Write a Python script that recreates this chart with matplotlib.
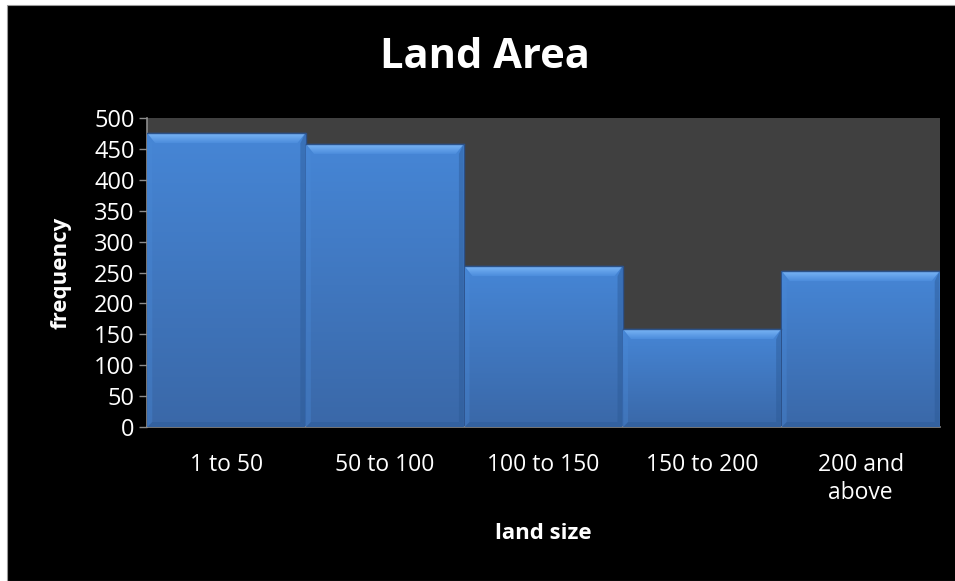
import matplotlib
matplotlib.use("Agg")
import matplotlib.pyplot as plt
import numpy as np
from matplotlib.colors import LinearSegmentedColormap
from matplotlib.patches import Polygon, Rectangle

categories = ["1 to 50", "50 to 100", "100 to 150", "150 to 200", "200 and\nabove"]
frequency = [475, 458, 260, 158, 252]

plt.rcParams["font.family"] = ["Open Sans", "DejaVu Sans"]

W, H = 955, 581
fig = plt.figure(figsize=(W / 100, H / 100), dpi=100, facecolor="white")
# black card, leaving a thin white strip on the top and left edges
fig.patches.append(Rectangle((7 / W, 0), 1, 1 - 5 / H, transform=fig.transFigure,
                             facecolor="black", edgecolor="#9a9a9a", lw=0.8, zorder=-10))

ax_l, ax_r, ax_t, ax_b = 147, 940, 118, 427
ax = fig.add_axes([ax_l / W, 1 - ax_b / H, (ax_r - ax_l) / W, (ax_b - ax_t) / H])
ax.set_facecolor("#404040")

YMAX = 500
x = np.arange(len(categories))
# data units per pixel, used for the bevel size
dx = (len(categories)) / (ax_r - ax_l)
dy = YMAX / (ax_b - ax_t)
bx, by, bb = 8 * dx, 10 * dy, 5 * dy


def grad_fill(poly, top, bottom, y0, y1, z):
    cmap = LinearSegmentedColormap.from_list("g", [bottom, top])
    xs = [p[0] for p in poly.get_xy()]
    g = np.linspace(0, 1, 128).reshape(-1, 1)
    im = ax.imshow(g, extent=[min(xs), max(xs), y0, y1], origin="lower",
                   aspect="auto", cmap=cmap, zorder=z, interpolation="bilinear")
    im.set_clip_path(poly)


bars = ax.bar(x, frequency, width=1.0, color="#3f78c4", edgecolor="#2b5088",
              linewidth=1.0, zorder=2)

for rect, v in zip(bars, frequency):
    x0 = rect.get_x() + 0.003
    x1 = x0 + rect.get_width() - 0.006
    # main body
    body = Polygon([(x0, 0), (x1, 0), (x1, v), (x0, v)], closed=True,
                   facecolor="none", edgecolor="none", zorder=3)
    ax.add_patch(body)
    grad_fill(body, "#4686d6", "#3a68a8", 0, v, 3)
    # soft bevel edges
    left = Polygon([(x0, 0), (x0 + bx * 0.6, bb), (x0 + bx * 0.6, v - by), (x0, v)],
                   facecolor="#4a8ad8", edgecolor="none", alpha=0.35, zorder=4)
    right = Polygon([(x1, 0), (x1 - bx * 0.6, bb), (x1 - bx * 0.6, v - by), (x1, v)],
                    facecolor="#2c5a96", edgecolor="none", alpha=0.45, zorder=4)
    bottom = Polygon([(x0, 0), (x1, 0), (x1 - bx * 0.6, bb), (x0 + bx * 0.6, bb)],
                     facecolor="#2c5a96", edgecolor="none", alpha=0.45, zorder=4)
    ax.add_patch(left)
    ax.add_patch(right)
    ax.add_patch(bottom)
    top = Polygon([(x0, v), (x1, v), (x1 - bx, v - by), (x0 + bx, v - by)],
                  facecolor="none", edgecolor="none", zorder=5)
    ax.add_patch(top)
    grad_fill(top, "#7ab6f6", "#4c8cdc", v - by, v, 5)
    ax.plot([x0, x1], [v, v], color="#2c5288", lw=1, zorder=6)

ax.set_xlim(-0.5, len(categories) - 0.5)
ax.set_ylim(0, YMAX)
ax.set_yticks(np.arange(0, YMAX + 1, 50))
ax.set_xticks(x)
ax.set_xticklabels(categories, fontsize=16.5, color="white", linespacing=1.2)
ax.tick_params(axis="x", length=0, pad=19)
ax.tick_params(axis="y", direction="out", length=6, color="#8c8c8c", width=1,
               labelsize=17, labelcolor="white", pad=3)

for side in ("top", "right"):
    ax.spines[side].set_visible(False)
for side in ("left", "bottom"):
    ax.spines[side].set_color("#8c8c8c")
    ax.spines[side].set_linewidth(1.2)

ax.set_ylabel("frequency", fontsize=16, fontweight="bold", color="white")
ax.yaxis.set_label_coords(-0.095, 0.5)
ax.set_xlabel("land size", fontsize=16, fontweight="bold", color="white")
ax.xaxis.set_label_coords(0.5, -0.31)

fig.text(485 / W, 1 - 57 / H, "Land Area", fontsize=30, fontweight="bold",
         color="white", ha="center", va="center")

fig.savefig("out.png", dpi=100, facecolor=fig.get_facecolor())
